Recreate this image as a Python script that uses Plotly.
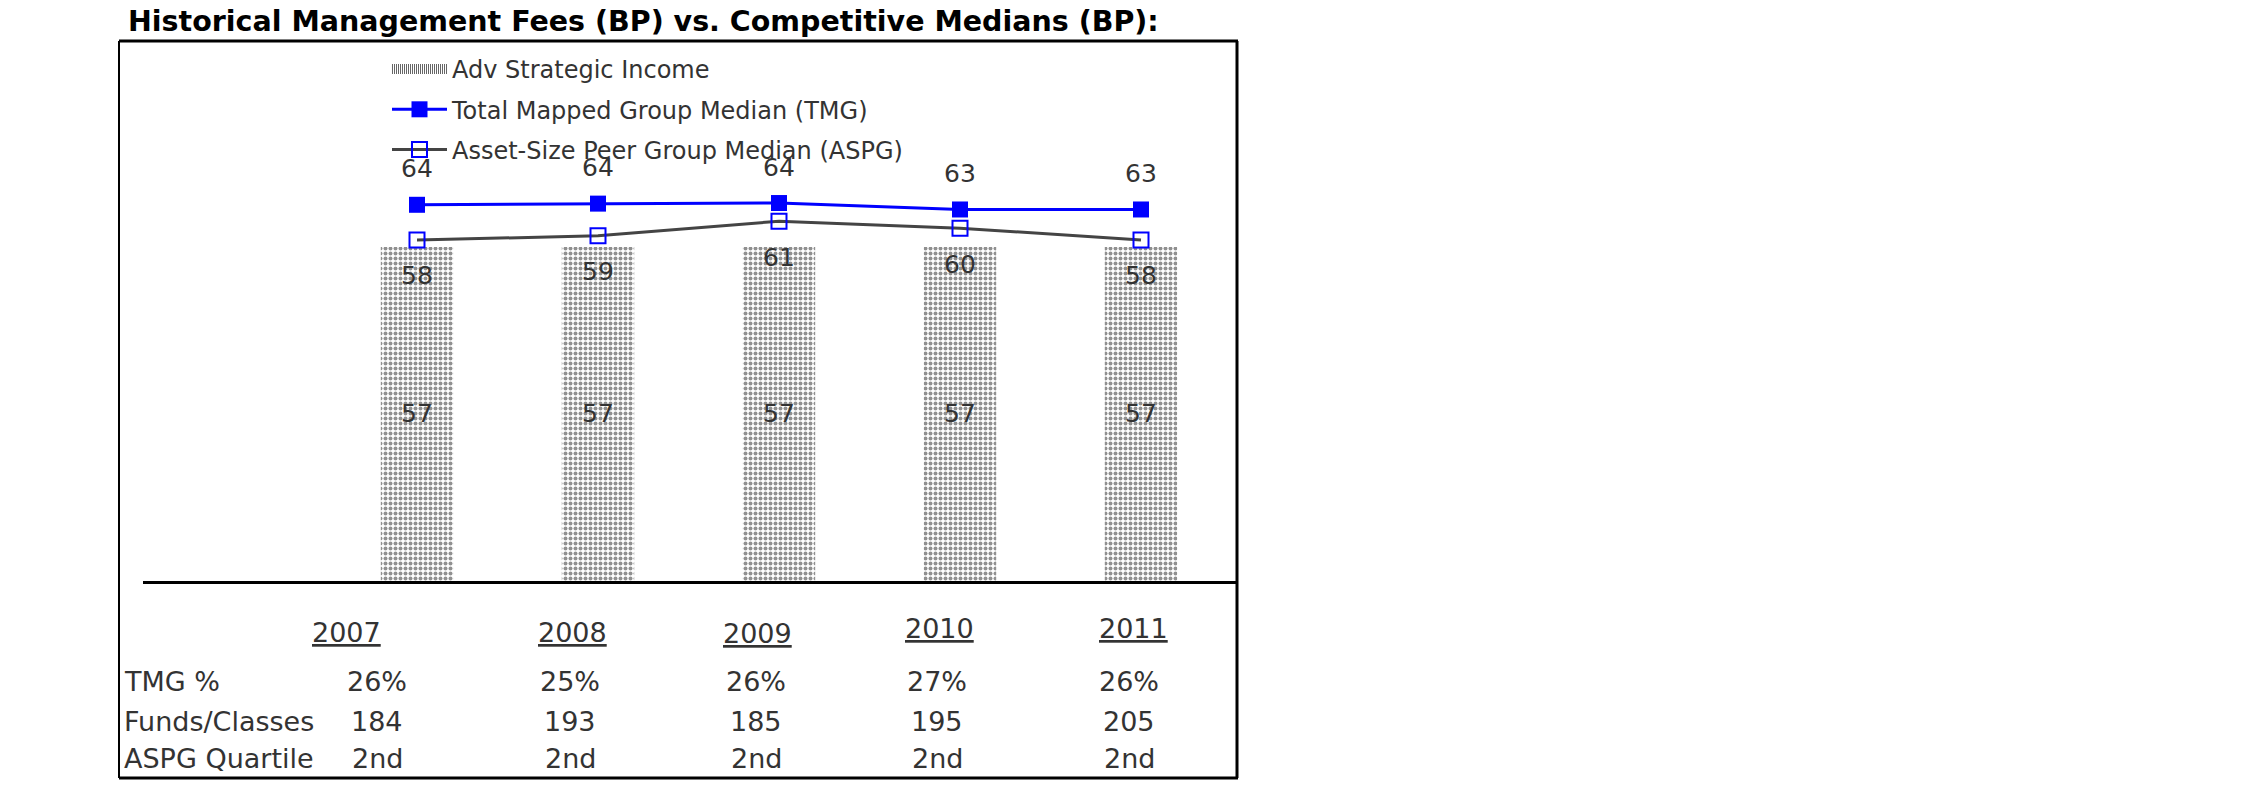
import plotly.graph_objects as go

# ---------------- data ----------------
years = ["2007", "2008", "2009", "2010", "2011"]
fund_fee_bp = [57, 57, 57, 57, 57]                       # Adv Strategic Income
tmg_median_bp = [64.2, 64.4, 64.5, 63.4, 63.4]           # Total Mapped Group Median
aspg_median_bp = [58.2, 58.9, 61.4, 60.2, 58.2]          # Asset-Size Peer Group Median
row_labels = ["TMG %", "Funds/Classes", "ASPG Quartile"]
tmg_pct = ["26%", "25%", "26%", "27%", "26%"]
funds_classes = ["184", "193", "185", "195", "205"]
aspg_quartile = ["2nd", "2nd", "2nd", "2nd", "2nd"]

# ---------------- layout geometry (page pixels) ----------------
W, H = 2250, 796
PL, PR, PT, PB = 143, 1237, 41, 581          # plot area edges (page px)
PX_PER_UNIT = 5.86
Y_MAX = (PB - PT) / PX_PER_UNIT
CAT_STEP = 181.0
FIRST_CAT = 417.0
X_RANGE = [(PL - FIRST_CAT) / CAT_STEP, (PR - FIRST_CAT) / CAT_STEP]


def px(x):
    return (x - PL) / (PR - PL)


def py(y):
    return (PB - y) / (PB - PT)


FONT = "Verdana, DejaVu Sans, sans-serif"
TXT = "#333333"

fig = go.Figure()

fig.add_trace(go.Bar(
    x=years, y=fund_fee_bp, name="Adv Strategic Income",
    width=0.4,
    marker=dict(color="white", line=dict(width=0),
                pattern=dict(shape=".", fgcolor="#222222", bgcolor="white",
                             size=5, solidity=0.5)),
    text=[str(v) for v in fund_fee_bp], textposition="inside",
    insidetextanchor="middle", textangle=0,
    textfont=dict(family=FONT, size=25, color=TXT),
    legendgroup="a", showlegend=False,
))
# legend swatch for the bar series (wide stippled sample, as in the original legend)
fig.add_trace(go.Scatter(
    x=[None], y=[None], name="Adv Strategic Income", mode="lines",
    line=dict(color="#666666", width=10, dash="1px,1px"),
    legendgroup="a", showlegend=True, hoverinfo="skip",
))
fig.add_trace(go.Scatter(
    x=years, y=tmg_median_bp, name="Total Mapped Group Median (TMG)",
    mode="lines+markers",
    line=dict(color="#0000FF", width=3),
    marker=dict(symbol="square", size=16, color="#0000FF"),
    legendgroup="b",
))
fig.add_trace(go.Scatter(
    x=years, y=aspg_median_bp, name="Asset-Size Peer Group Median (ASPG)",
    mode="lines+markers",
    line=dict(color="#444444", width=3),
    marker=dict(symbol="square-open", size=15, color="#0000FF",
                line=dict(width=2, color="#0000FF")),
    legendgroup="c",
))

annotations = []
for i, v in enumerate(tmg_median_bp):
    annotations.append(dict(x=i, y=v, xref="x", yref="y", text=f"{v:.0f}",
                            showarrow=False, yshift=36,
                            font=dict(family=FONT, size=25, color=TXT)))
for i, v in enumerate(aspg_median_bp):
    annotations.append(dict(x=i, y=v, xref="x", yref="y", text=f"{v:.0f}",
                            showarrow=False, yshift=-36,
                            font=dict(family=FONT, size=25, color=TXT)))

# title
annotations.append(dict(x=px(126), y=py(22), xref="paper", yref="paper",
                        xanchor="left", yanchor="middle", showarrow=False,
                        text="<b>Historical Management Fees (BP) vs. Competitive Medians (BP):</b>",
                        font=dict(family=FONT, size=28.5, color="black")))

# table below the chart
year_cx = [346, 572, 757, 940, 1133]
year_cy = [632, 632, 633, 628, 628]
val_cx = [377, 570, 756, 937, 1129]
row_y = [681, 721, 758]
for cx, cy, yr in zip(year_cx, year_cy, years):
    annotations.append(dict(x=px(cx), y=py(cy), xref="paper", yref="paper",
                            xanchor="center", yanchor="middle", showarrow=False,
                            text=f"<u>{yr}</u>",
                            font=dict(family=FONT, size=27, color=TXT)))
for ry, lab in zip(row_y, row_labels):
    annotations.append(dict(x=px(122), y=py(ry), xref="paper", yref="paper",
                            xanchor="left", yanchor="middle", showarrow=False,
                            text=lab, font=dict(family=FONT, size=27, color=TXT)))
for ry, row in zip(row_y, [tmg_pct, funds_classes, aspg_quartile]):
    for cx, t in zip(val_cx, row):
        annotations.append(dict(x=px(cx), y=py(ry), xref="paper", yref="paper",
                                xanchor="center", yanchor="middle", showarrow=False,
                                text=t, font=dict(family=FONT, size=27, color=TXT)))

# outer frame
FL, FR, FT, FB = 119, 1237, 41, 778
shapes = [
    dict(type="line", xref="paper", yref="paper", x0=px(FL), x1=px(FR + 1), y0=py(FT), y1=py(FT),
         line=dict(color="black", width=3)),
    dict(type="line", xref="paper", yref="paper", x0=px(FL), x1=px(FR + 1), y0=py(FB), y1=py(FB),
         line=dict(color="black", width=3)),
    dict(type="line", xref="paper", yref="paper", x0=px(FL), x1=px(FL), y0=py(FT), y1=py(FB),
         line=dict(color="black", width=2)),
    dict(type="line", xref="paper", yref="paper", x0=px(FR), x1=px(FR), y0=py(FT), y1=py(FB),
         line=dict(color="black", width=3)),
]

fig.update_layout(
    width=W, height=H,
    margin=dict(l=PL, r=W - PR, t=PT, b=H - PB, pad=0),
    paper_bgcolor="white", plot_bgcolor="white",
    font=dict(family=FONT, color=TXT),
    showlegend=True,
    legend=dict(x=px(387), y=py(47), xanchor="left", yanchor="top",
                bgcolor="rgba(0,0,0,0)", font=dict(family=FONT, size=24, color=TXT),
                itemwidth=55, tracegroupgap=6, traceorder="grouped"),
    xaxis=dict(type="category", categoryorder="array", categoryarray=years,
               range=X_RANGE, showticklabels=False, ticks="", showgrid=False,
               zeroline=False, showline=True, linecolor="black", linewidth=3),
    yaxis=dict(range=[0, Y_MAX], visible=False, showgrid=False, zeroline=False),
    bargap=0.6,
    annotations=annotations,
    shapes=shapes,
)

fig.write_html("out.html",
               config={"displayModeBar": False},
               post_script="document.body.style.margin='0px';document.body.style.overflow='hidden';")
